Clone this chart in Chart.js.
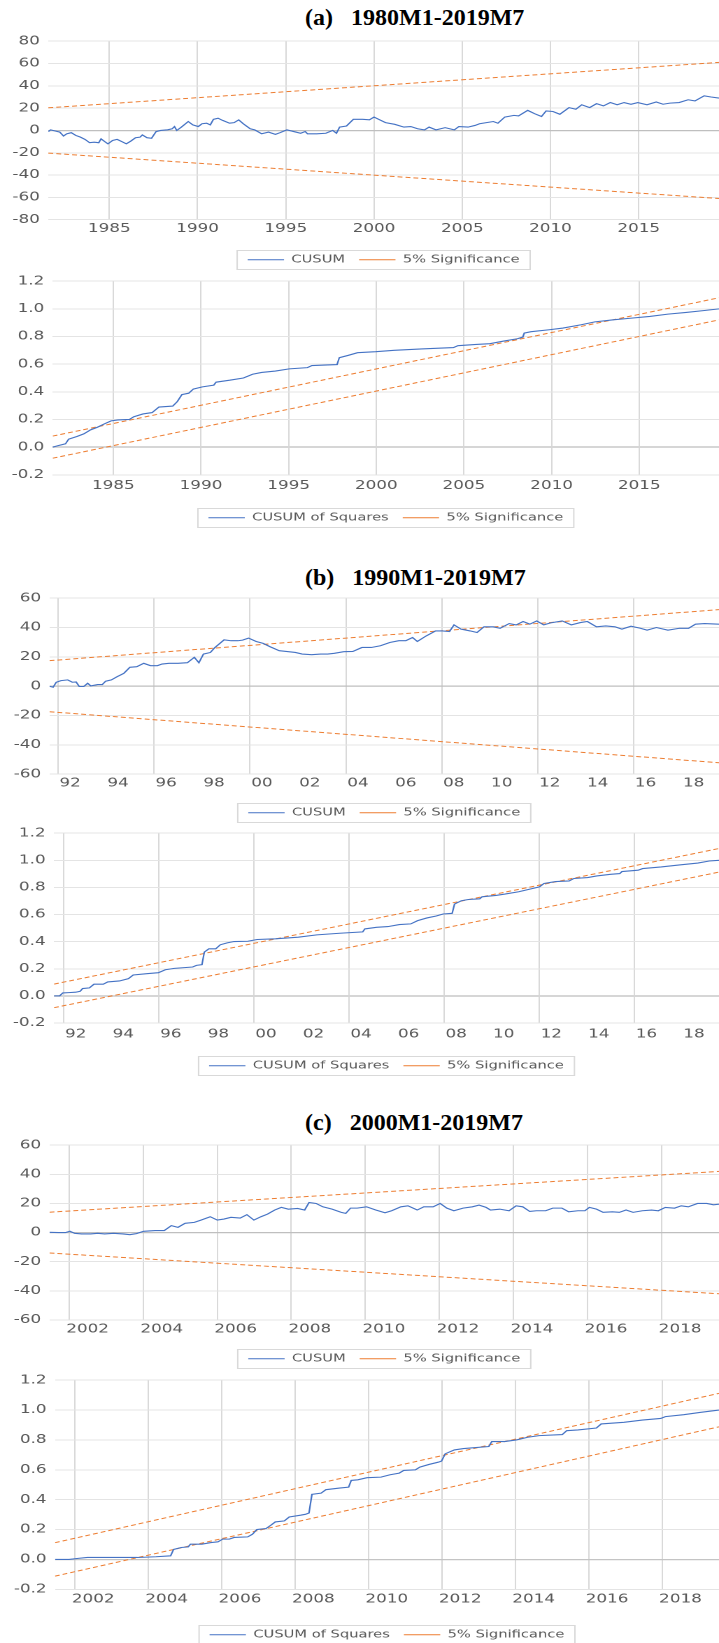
<!DOCTYPE html>
<html>
<head>
<meta charset="utf-8">
<script src="https://cdn.jsdelivr.net/npm/chart.js@4.4.1/dist/chart.umd.min.js"></script>
<style>
  html, body { margin: 0; padding: 0; background: #fff; }
  body { width: 719px; height: 1643px; position: relative; overflow: hidden; }
  .title { position: absolute; left: 305px; font: bold 24px "Liberation Serif", "Times New Roman", serif; line-height: 24px; white-space: pre; color: #000; }
  .wrap { position: absolute; left: 0; transform-origin: 0 0; transform: scaleX(1.3988); }
  .wrap canvas { display: block; }
</style>
</head>
<body>
<div class="title" style="top:5px">(a)   1980M1-2019M7</div>
<div class="title" style="top:565px">(b)   1990M1-2019M7</div>
<div class="title" style="top:1110px">(c)   2000M1-2019M7</div>

<script>
// ---- data: (a) 1980M1-2019M7 ----
const aYears = [1981.54,1981.67,1981.93,1982.19,1982.40,1982.58,1982.84,1983.10,1983.36,1983.62,
  1983.88,1984.14,1984.40,1984.53,1984.74,1984.92,1985.18,1985.44,1985.70,1985.96,
  1986.22,1986.48,1986.74,1986.87,1987.13,1987.39,1987.65,1987.91,1988.30,1988.56,
  1988.69,1988.82,1989.08,1989.47,1989.73,1990.04,1990.25,1990.51,1990.72,1990.90,
  1991.16,1991.42,1991.81,1992.07,1992.33,1992.59,1992.98,1993.24,1993.63,1994.02,
  1994.41,1994.67,1995.06,1995.45,1995.84,1996.10,1996.23,1996.75,1997.27,1997.66,
  1997.87,1998.05,1998.44,1998.83,1999.35,1999.74,2000.00,2000.26,2000.65,2001.17,
  2001.69,2002.08,2002.47,2002.86,2003.12,2003.51,2004.03,2004.55,2004.81,2005.33,
  2005.72,2005.98,2006.37,2006.76,2007.02,2007.41,2007.93,2008.19,2008.71,2009.10,
  2009.49,2009.75,2010.14,2010.53,2011.05,2011.44,2011.77,2012.22,2012.61,2013.00,
  2013.39,2013.78,2014.17,2014.56,2014.95,2015.47,2015.99,2016.38,2016.77,2017.29,
  2017.80,2018.19,2018.71,2019.10,2019.55];
const aCusum = [-1,0.5,-0.5,-1.5,-5,-3,-2,-4.5,-6,-8,
  -11,-10.5,-11,-7.5,-10,-12,-9,-8,-10,-12,
  -9.5,-6.5,-6,-4,-6.5,-7,-1,0,0.6,1.5,
  3.5,0,3,8,5,3.5,6,6.5,5,10,
  11,9,6.5,7,9.5,6,1.5,0.5,-3,-1.5,
  -3.5,-2,0.5,-1,-2.5,-1,-3,-3,-2.5,0,
  -2.5,3,4,10,10,9.5,12,10,7,5.5,
  3,3.5,1.5,0.5,3,0.5,2.5,0.5,3.5,3,
  4.5,6,7,8,6.5,12,13.5,13,18,15,
  12.5,17.5,17,14.5,20.5,19,23,20.5,24,22,
  25,23,25,23.5,25,23,25.5,23.5,24.5,25,
  27.5,26.5,31,30,29];
const aBand = [20.3, 61];

const aSqYears = [1981.54,1981.88,1982.27,1982.45,1982.92,1983.31,1983.70,1984.09,1984.48,1984.87,
  1985.26,1985.91,1986.17,1986.69,1987.21,1987.60,1988.39,1988.65,1988.91,1989.30,
  1989.56,1990.08,1990.73,1990.86,1991.64,1992.42,1992.94,1993.46,1994.24,1995.03,
  1996.07,1996.33,1997.76,1997.89,1998.41,1998.93,1999.97,2001.02,2002.58,2004.40,
  2004.66,2005.70,2006.48,2007.27,2008.05,2008.36,2008.44,2008.83,2009.87,2010.65,
  2011.69,2012.47,2013.52,2014.56,2015.60,2016.64,2017.68,2018.72,2019.55];
const aCusumSq = [0,0.012,0.024,0.058,0.077,0.096,0.125,0.144,0.168,0.19,
  0.197,0.2,0.22,0.24,0.25,0.29,0.297,0.33,0.38,0.39,
  0.42,0.436,0.448,0.47,0.484,0.5,0.527,0.54,0.55,0.566,
  0.575,0.59,0.597,0.647,0.664,0.683,0.69,0.70,0.71,0.72,
  0.734,0.743,0.748,0.767,0.784,0.796,0.825,0.835,0.849,0.861,
  0.885,0.906,0.921,0.933,0.945,0.962,0.974,0.988,1.0];
const aSqBand = [0.08, 0.08];
const aTicks = [1985, 1990, 1995, 2000, 2005, 2010, 2015];

// ---- data: (b) 1990M1-2019M7 ----
const bYears = [1991.64,1991.79,1991.92,1992.12,1992.40,1992.59,1992.75,1992.88,1993.07,1993.23,
  1993.36,1993.65,1993.84,1993.98,1994.22,1994.47,1994.74,1994.99,1995.28,1995.57,
  1995.85,1996.14,1996.33,1996.62,1997.00,1997.39,1997.68,1997.87,1998.06,1998.35,
  1998.54,1998.92,1999.21,1999.50,1999.69,1999.94,2000.26,2000.55,2000.84,2001.22,
  2001.51,2001.89,2002.18,2002.57,2002.95,2003.24,2003.52,2003.91,2004.29,2004.67,
  2005.06,2005.44,2005.83,2006.21,2006.50,2006.78,2006.98,2007.36,2007.74,2008.03,
  2008.32,2008.51,2008.80,2009.18,2009.47,2009.76,2010.14,2010.43,2010.81,2011.10,
  2011.39,2011.67,2011.96,2012.25,2012.54,2013.02,2013.40,2013.78,2014.07,2014.45,
  2014.84,2015.22,2015.51,2015.89,2016.28,2016.56,2016.95,2017.43,2017.91,2018.29,
  2018.58,2018.96,2019.56];
const bCusum = [0,-0.7,2.7,3.8,4.3,2.7,2.9,-0.2,-0.2,2,
  0.2,1.1,1.1,3.4,4.3,6.6,8.8,12.9,13.3,15.6,
  14,14,15.1,15.6,15.6,16,19.7,16,21.9,23,
  26.4,31.6,31,31,31.4,32.8,30.5,29.2,26.9,24.2,
  23.7,23,21.9,21.5,21.9,21.9,22.4,23.5,23.7,26.4,
  26.4,27.6,29.8,31,31,33.2,30.5,34.4,37.7,37.7,
  37.3,41.8,38.9,37.7,36.6,40.5,40.5,39.5,42.7,41.8,
  44.1,42.3,44.5,41.8,43.2,44.5,41.8,43.4,44.1,40.5,
  41.1,40.5,38.9,40.9,39.5,38.2,40,38.2,39.5,39.5,
  42.3,42.7,42.3];
const bBand = [17.4, 52.2];

const bSqYears = [1991.59,1991.83,1991.96,1992.21,1992.50,1992.69,1992.79,1993.08,1993.27,1993.66,
  1993.85,1994.34,1994.72,1994.92,1995.49,1995.98,1996.27,1996.65,1997.42,1997.58,
  1997.81,1997.91,1998.10,1998.39,1998.58,1998.87,1999.16,1999.74,2000.13,2000.90,
  2001.86,2002.64,2003.60,2004.57,2004.66,2005.15,2005.63,2006.11,2006.59,2006.88,
  2007.27,2007.66,2007.95,2008.33,2008.43,2008.72,2009.01,2009.49,2009.59,2010.17,
  2010.55,2011.13,2011.71,2012.00,2012.19,2012.68,2013.25,2013.45,2014.03,2014.41,
  2014.99,2015.38,2015.47,2016.15,2016.34,2017.12,2017.89,2018.66,2019.14,2019.55];
const bCusumSq = [0,0,0.022,0.024,0.027,0.034,0.054,0.059,0.086,0.086,
  0.103,0.11,0.127,0.154,0.164,0.171,0.193,0.203,0.213,0.225,
  0.23,0.323,0.347,0.347,0.377,0.391,0.401,0.403,0.416,0.421,
  0.433,0.45,0.462,0.472,0.494,0.506,0.511,0.526,0.531,0.555,
  0.575,0.589,0.604,0.609,0.677,0.702,0.711,0.716,0.731,0.741,
  0.751,0.768,0.792,0.804,0.829,0.843,0.848,0.866,0.873,0.885,
  0.897,0.902,0.917,0.927,0.939,0.951,0.966,0.98,0.995,1.0];
const bSqBand = [0.087, 0.087];
const bTickYears = [1992,1994,1996,1998,2000,2002,2004,2006,2008,2010,2012,2014,2016,2018];
const bTickLabels = ["92","94","96","98","00","02","04","06","08","10","12","14","16","18"];
const bGridYears = [1992, 1996, 2000, 2004, 2008, 2012, 2016];

// ---- data: (c) 2000M1-2019M7 ----
const cYears = [2001.47,2001.71,2001.90,2002.02,2002.15,2002.34,2002.58,2002.77,2002.96,2003.20,
  2003.45,2003.64,2003.82,2004.01,2004.32,2004.57,2004.76,2004.94,2005.13,2005.38,
  2005.56,2005.81,2006.00,2006.18,2006.37,2006.62,2006.80,2006.99,2007.18,2007.36,
  2007.55,2007.73,2007.92,2008.17,2008.36,2008.48,2008.67,2008.85,2009.10,2009.35,
  2009.47,2009.60,2009.78,2010.03,2010.28,2010.53,2010.71,2010.96,2011.15,2011.40,
  2011.58,2011.83,2012.02,2012.20,2012.39,2012.64,2012.89,2013.07,2013.26,2013.38,
  2013.63,2013.88,2014.07,2014.25,2014.44,2014.62,2014.87,2015.06,2015.31,2015.49,
  2015.74,2015.93,2016.05,2016.24,2016.42,2016.67,2016.86,2017.04,2017.23,2017.48,
  2017.73,2017.91,2018.10,2018.35,2018.53,2018.72,2018.97,2019.22,2019.40,2019.55];
const cCusum = [0.2,0,0,0.9,-0.5,-0.9,-0.9,-0.5,-0.9,-0.5,
  -0.9,-1.4,-0.7,0.9,1.4,1.4,4.8,3.6,6.4,7,
  8.6,10.9,8.6,9.3,10.5,10,12.3,8.6,10.9,12.7,
  15.5,17.3,16.1,16.6,15.5,20.7,20,17.7,16.1,13.9,
  13.2,16.8,16.8,17.7,15.5,13.6,15,17.7,18.4,15.5,
  17.7,17.7,20,16.8,15,16.8,17.7,18.9,17.3,15.5,
  16.1,15,18.4,17.7,14.5,15,15,16.8,16.8,14.3,
  15,15,17.3,16.1,13.9,14.3,13.9,15.5,13.9,15,
  15.5,15,17.3,16.8,18.4,17.7,20,20,19.1,19.5];
const cBand = [14, 42];

const cSqYears = [2001.46,2001.84,2002.09,2002.34,2002.71,2003.71,2004.21,2004.61,2004.69,2004.90,
  2005.09,2005.15,2005.46,2005.71,2005.90,2006.03,2006.21,2006.34,2006.71,2006.84,
  2006.96,2007.21,2007.34,2007.46,2007.71,2007.84,2008.15,2008.28,2008.38,2008.46,
  2008.71,2008.84,2009.21,2009.46,2009.53,2009.71,2009.96,2010.34,2010.59,2010.84,
  2010.96,2011.28,2011.40,2011.65,2011.90,2011.99,2012.09,2012.34,2012.59,2012.84,
  2013.28,2013.36,2013.71,2014.03,2014.34,2014.65,2015.28,2015.40,2015.71,2016.21,
  2016.34,2016.96,2017.46,2017.96,2018.09,2018.59,2019.03,2019.55];
const cCusumSq = [0,0,0.007,0.013,0.013,0.013,0.018,0.024,0.067,0.08,
  0.084,0.102,0.102,0.113,0.118,0.136,0.136,0.147,0.151,0.169,
  0.2,0.207,0.229,0.251,0.258,0.284,0.296,0.302,0.311,0.436,
  0.444,0.467,0.478,0.484,0.529,0.533,0.547,0.551,0.567,0.578,
  0.596,0.6,0.618,0.636,0.651,0.658,0.707,0.733,0.742,0.747,
  0.756,0.789,0.789,0.8,0.818,0.829,0.836,0.862,0.867,0.88,
  0.907,0.918,0.933,0.944,0.956,0.969,0.984,1.0];
const cSqBand = [0.112, 0.112];
const cTickYears = [2002,2004,2006,2008,2010,2012,2014,2016,2018];
const cGridYears = [2002,2004,2006,2008,2010,2012,2014,2016,2018];

const cusumTicks = { a: [-80,-60,-40,-20,0,20,40,60,80], bc: [-60,-40,-20,0,20,40,60] };
const sqTicks = [-0.2, 0, 0.2, 0.4, 0.6, 0.8, 1.0, 1.2];

// ---- drawing ----
const S = 1.3988, LW = 514;
const BLUE = "#4472C4", ORANGE = "#ED7D31";
Chart.defaults.font.family = '"DejaVu Sans", Verdana, sans-serif';

const legendFrame = {
  id: "legendFrame",
  afterDraw(chart) {
    const hb = chart.legend && chart.legend.legendHitBoxes;
    if (!hb || !hb.length) return;
    const f = hb[0], l = hb[hb.length - 1];
    const cy = f.top + f.height / 2;
    const ctx = chart.ctx;
    ctx.save();
    ctx.strokeStyle = "#d9d9d9";
    ctx.lineWidth = 1;
    ctx.strokeRect(f.left - 7.5, Math.round(cy) - 9.5, l.left + l.width - f.left + 15, 19);
    ctx.restore();
  }
};

function makeChart(p) {
  const top = Math.round(p.top) - 12;
  const H = Math.round(p.legendY + 15.25) - top;
  const legendH = 30.5;
  const xAxisH = H - legendH - (p.bottom - top);
  const wrap = document.createElement("div");
  wrap.className = "wrap";
  wrap.style.top = top + "px";
  const cv = document.createElement("canvas");
  cv.width = LW; cv.height = H;
  wrap.appendChild(cv);
  document.body.appendChild(wrap);

  const xMin = p.years[0], xMax = p.years[p.years.length - 1];
  const line = p.years.map((x, i) => ({ x, y: p.vals[i] }));
  let upper, lower;
  if (p.sq) {
    upper = [{ x: xMin, y: p.band[0] }, { x: xMax, y: 1 + p.band[1] }];
    lower = [{ x: xMin, y: -p.band[0] }, { x: xMax, y: 1 - p.band[1] }];
  } else {
    upper = [{ x: xMin, y: p.band[0] }, { x: xMax, y: p.band[1] }];
    lower = [{ x: xMin, y: -p.band[0] }, { x: xMax, y: -p.band[1] }];
  }
  const dash = { borderColor: ORANGE, borderWidth: 1, borderDash: [3.5, 2.2], pointRadius: 0, fill: false };
  const labelMap = new Map(p.labelPos.map((v, i) => [v, p.labels[i]]));
  const gridSet = new Set(p.grid);
  const xTickVals = Array.from(new Set([...p.grid, ...p.labelPos])).sort((a, b) => a - b);

  new Chart(cv, {
    type: "line",
    data: {
      datasets: [
        { label: p.sq ? "CUSUM of Squares" : "CUSUM", data: line, borderColor: BLUE, borderWidth: 1.1, pointRadius: 0, fill: false },
        Object.assign({ label: "5% Significance", data: upper }, dash),
        Object.assign({ label: "5% Significance", data: lower }, dash)
      ]
    },
    options: {
      responsive: false,
      animation: false,
      devicePixelRatio: 2,
      events: [],
      layout: { padding: { top: 12, left: 0, right: 0, bottom: 0 } },
      scales: {
        x: {
          type: "linear", min: xMin, max: xMax,
          border: { display: false },
          grid: {
            drawTicks: false,
            color: (c) => (c.tick && gridSet.has(c.tick.value)) ? "#d9d9d9" : "rgba(0,0,0,0)"
          },
          ticks: {
            autoSkip: false, maxRotation: 0, padding: p.xPad, color: "#595959",
            font: { size: 12 },
            callback: (v) => labelMap.has(v) ? labelMap.get(v) : ""
          },
          afterBuildTicks: (s) => { s.ticks = xTickVals.map(v => ({ value: v })); },
          afterFit: (s) => { s.height = xAxisH; }
        },
        y: {
          type: "linear", min: p.yTicks[0], max: p.yTicks[p.yTicks.length - 1],
          border: { display: false },
          grid: {
            drawTicks: false,
            color: (c) => (c.tick && Math.abs(c.tick.value) < 1e-9) ? p.zeroColor : "#e4e4e4",
            lineWidth: (c) => (c.tick && Math.abs(c.tick.value) < 1e-9) ? p.zeroWidth : 1
          },
          ticks: {
            padding: 6, color: "#595959", font: { size: 12 },
            callback: (v) => p.sq ? Number(v).toFixed(1) : String(Math.round(v))
          },
          afterBuildTicks: (s) => { s.ticks = p.yTicks.map(v => ({ value: v })); },
          afterFit: (s) => { s.width = p.left / S; }
        }
      },
      plugins: {
        title: { display: false },
        tooltip: { enabled: false },
        legend: {
          position: "bottom",
          fullSize: false,
          labels: {
            usePointStyle: true, pointStyle: "line", pointStyleWidth: 26,
            color: "#595959", font: { size: 10.5 }, padding: 10,
            filter: (item) => item.datasetIndex < 2
          }
        }
      }
    },
    plugins: [legendFrame]
  });
}

makeChart({ top: 40.3, bottom: 219.7, legendY: 259.5, left: 48.3, years: aYears, vals: aCusum, band: aBand,
  yTicks: cusumTicks.a, grid: aTicks, labelPos: aTicks, labels: aTicks.map(String), xPad: 2, zeroColor: "#bfbfbf", zeroWidth: 1.2 });
makeChart({ top: 280.2, bottom: 474.8, legendY: 517.7, left: 52.7, sq: true, years: aSqYears, vals: aCusumSq, band: aSqBand,
  yTicks: sqTicks, grid: aTicks, labelPos: aTicks, labels: aTicks.map(String), xPad: 4, zeroColor: "#d6d6d6", zeroWidth: 2 });
makeChart({ top: 597, bottom: 774.2, legendY: 812.4, left: 49.5, years: bYears, vals: bCusum, band: bBand,
  yTicks: cusumTicks.bc, grid: bGridYears, labelPos: bTickYears.map(y => y + 0.5), labels: bTickLabels, xPad: 2, zeroColor: "#bfbfbf", zeroWidth: 1.2 });
makeChart({ top: 832, bottom: 1023, legendY: 1065.7, left: 54, sq: true, years: bSqYears, vals: bCusumSq, band: bSqBand,
  yTicks: sqTicks, grid: bGridYears, labelPos: bTickYears.map(y => y + 0.5), labels: bTickLabels, xPad: 4, zeroColor: "#d6d6d6", zeroWidth: 2 });
makeChart({ top: 1144, bottom: 1320, legendY: 1358.3, left: 49.5, years: cYears, vals: cCusum, band: cBand,
  yTicks: cusumTicks.bc, grid: cGridYears, labelPos: cTickYears.map(y => y + 0.5), labels: cTickYears.map(String), xPad: 2, zeroColor: "#bfbfbf", zeroWidth: 1.2 });
makeChart({ top: 1379.3, bottom: 1589.3, legendY: 1634.5, left: 55, sq: true, years: cSqYears, vals: cCusumSq, band: cSqBand,
  yTicks: sqTicks, grid: cGridYears, labelPos: cTickYears.map(y => y + 0.5), labels: cTickYears.map(String), xPad: 3, zeroColor: "#c4c4c4", zeroWidth: 1.2 });
</script>
</body>
</html>
